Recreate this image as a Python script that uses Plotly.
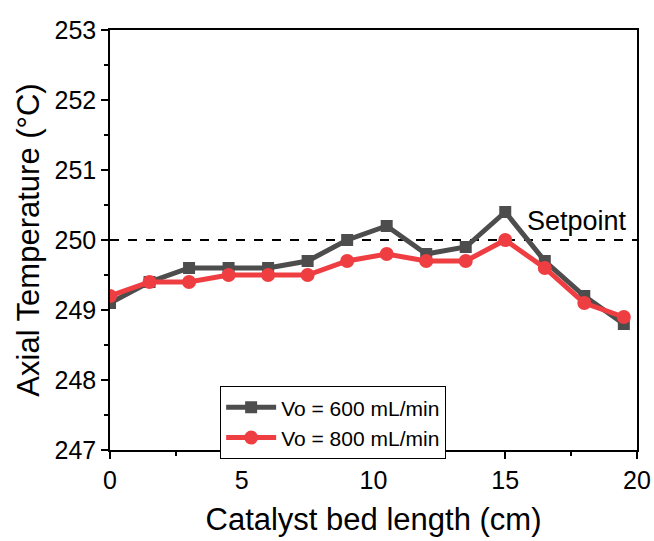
import plotly.graph_objects as go

# Axial position along the catalyst bed (cm)
position_cm = [0, 1.5, 3, 4.5, 6, 7.5, 9, 10.5, 12, 13.5, 15, 16.5, 18, 19.5]

# Measured axial temperatures (°C) for the two flow rates
temp_600 = [249.1, 249.4, 249.6, 249.6, 249.6, 249.7, 250.0, 250.2, 249.8, 249.9, 250.4, 249.7, 249.2, 248.8]
temp_800 = [249.2, 249.4, 249.4, 249.5, 249.5, 249.5, 249.7, 249.8, 249.7, 249.7, 250.0, 249.6, 249.1, 248.9]

setpoint = 250
series_names = ["Vo = 600 mL/min", "Vo = 800 mL/min"]

font_family = "Liberation Sans, Arial, sans-serif"

fig = go.Figure()

fig.add_trace(go.Scatter(
    x=position_cm, y=temp_600, mode="lines+markers", name=series_names[0],
    line=dict(color="#4d4d4d", width=5),
    marker=dict(symbol="square", size=12, color="#4d4d4d"),
))
fig.add_trace(go.Scatter(
    x=position_cm, y=temp_800, mode="lines+markers", name=series_names[1],
    line=dict(color="#ef3e42", width=5),
    marker=dict(symbol="circle", size=14, color="#ef3e42"),
))

# Setpoint reference line
fig.add_shape(type="line", xref="paper", yref="y", x0=0, x1=1, y0=setpoint, y1=setpoint,
              line=dict(color="black", width=2, dash="dash"), layer="below")
fig.add_annotation(x=19.7, y=setpoint, xref="x", yref="y", text="Setpoint",
                   showarrow=False, xanchor="right", yanchor="bottom", yshift=2,
                   font=dict(size=27, color="black", family=font_family))

axis_common = dict(
    showgrid=False, zeroline=False, showline=True, linecolor="black", linewidth=1.5,
    mirror=True, ticks="outside", tickcolor="black", tickwidth=1.5, ticklen=7,
    tickfont=dict(size=25, color="black", family=font_family), automargin=False,
)

fig.update_xaxes(
    range=[0, 20], tickvals=[0, 5, 10, 15, 20],
    minor=dict(ticks="outside", tickvals=[2.5, 7.5, 12.5, 17.5], ticklen=4,
               tickcolor="black", tickwidth=1.5),
    title=dict(text="Catalyst bed length (cm)", font=dict(size=31, color="black", family=font_family),
               standoff=16),
    **axis_common,
)
fig.update_yaxes(
    range=[247, 253], tickvals=[247, 248, 249, 250, 251, 252, 253],
    minor=dict(ticks="outside", tickvals=[247.5, 248.5, 249.5, 250.5, 251.5, 252.5], ticklen=4,
               tickcolor="black", tickwidth=1.5),
    title=dict(text="Axial Temperature (°C)", font=dict(size=31, color="black", family=font_family),
               standoff=6),
    **axis_common,
)

fig.update_layout(
    width=654, height=541,
    margin=dict(l=110, r=17, t=30, b=91),
    plot_bgcolor="white", paper_bgcolor="white",
    showlegend=True,
    legend=dict(x=0.209, y=0.152, xanchor="left", yanchor="top",
                bordercolor="black", borderwidth=1, bgcolor="white",
                font=dict(size=21, color="black", family=font_family),
                itemwidth=50, tracegroupgap=0),
)

fig.write_html("out.html")
